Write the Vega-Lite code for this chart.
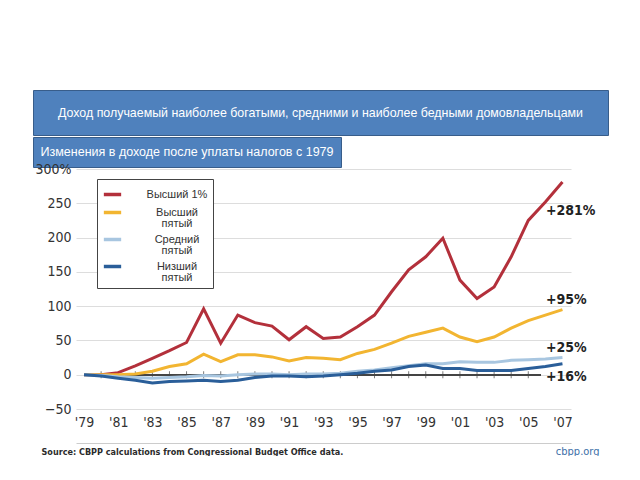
{
  "$schema": "https://vega.github.io/schema/vega-lite/v6.json",
  "padding": {"left": 32, "top": 89, "right": 0, "bottom": 0},
  "background": "white",
  "spacing": -6,
  "config": {"font": "Liberation Sans"},
  "datasets": {
    "series": [
      {"year": 1979, "group": "Высший 1%", "value": 0}, {"year": 1980, "group": "Высший 1%", "value": 0}, {"year": 1981, "group": "Высший 1%", "value": 3}, {"year": 1982, "group": "Высший 1%", "value": 13}, {"year": 1983, "group": "Высший 1%", "value": 24}, {"year": 1984, "group": "Высший 1%", "value": 35}, {"year": 1985, "group": "Высший 1%", "value": 47}, {"year": 1986, "group": "Высший 1%", "value": 96}, {"year": 1987, "group": "Высший 1%", "value": 46}, {"year": 1988, "group": "Высший 1%", "value": 87}, {"year": 1989, "group": "Высший 1%", "value": 76}, {"year": 1990, "group": "Высший 1%", "value": 71}, {"year": 1991, "group": "Высший 1%", "value": 51}, {"year": 1992, "group": "Высший 1%", "value": 70}, {"year": 1993, "group": "Высший 1%", "value": 53}, {"year": 1994, "group": "Высший 1%", "value": 55}, {"year": 1995, "group": "Высший 1%", "value": 70}, {"year": 1996, "group": "Высший 1%", "value": 87}, {"year": 1997, "group": "Высший 1%", "value": 121}, {"year": 1998, "group": "Высший 1%", "value": 153}, {"year": 1999, "group": "Высший 1%", "value": 172}, {"year": 2000, "group": "Высший 1%", "value": 199}, {"year": 2001, "group": "Высший 1%", "value": 138}, {"year": 2002, "group": "Высший 1%", "value": 111}, {"year": 2003, "group": "Высший 1%", "value": 128}, {"year": 2004, "group": "Высший 1%", "value": 172}, {"year": 2005, "group": "Высший 1%", "value": 225}, {"year": 2006, "group": "Высший 1%", "value": 252}, {"year": 2007, "group": "Высший 1%", "value": 281},
      {"year": 1979, "group": "Высший пятый", "value": 0}, {"year": 1980, "group": "Высший пятый", "value": 0}, {"year": 1981, "group": "Высший пятый", "value": 0}, {"year": 1982, "group": "Высший пятый", "value": 1}, {"year": 1983, "group": "Высший пятый", "value": 5}, {"year": 1984, "group": "Высший пятый", "value": 12}, {"year": 1985, "group": "Высший пятый", "value": 16}, {"year": 1986, "group": "Высший пятый", "value": 30}, {"year": 1987, "group": "Высший пятый", "value": 19}, {"year": 1988, "group": "Высший пятый", "value": 29}, {"year": 1989, "group": "Высший пятый", "value": 29}, {"year": 1990, "group": "Высший пятый", "value": 26}, {"year": 1991, "group": "Высший пятый", "value": 20}, {"year": 1992, "group": "Высший пятый", "value": 25}, {"year": 1993, "group": "Высший пятый", "value": 24}, {"year": 1994, "group": "Высший пятый", "value": 22}, {"year": 1995, "group": "Высший пятый", "value": 31}, {"year": 1996, "group": "Высший пятый", "value": 37}, {"year": 1997, "group": "Высший пятый", "value": 46}, {"year": 1998, "group": "Высший пятый", "value": 56}, {"year": 1999, "group": "Высший пятый", "value": 62}, {"year": 2000, "group": "Высший пятый", "value": 68}, {"year": 2001, "group": "Высший пятый", "value": 55}, {"year": 2002, "group": "Высший пятый", "value": 48}, {"year": 2003, "group": "Высший пятый", "value": 55}, {"year": 2004, "group": "Высший пятый", "value": 68}, {"year": 2005, "group": "Высший пятый", "value": 79}, {"year": 2006, "group": "Высший пятый", "value": 87}, {"year": 2007, "group": "Высший пятый", "value": 95},
      {"year": 1979, "group": "Средний пятый", "value": 0}, {"year": 1980, "group": "Средний пятый", "value": -1}, {"year": 1981, "group": "Средний пятый", "value": -3}, {"year": 1982, "group": "Средний пятый", "value": -4}, {"year": 1983, "group": "Средний пятый", "value": -5}, {"year": 1984, "group": "Средний пятый", "value": -4}, {"year": 1985, "group": "Средний пятый", "value": -3}, {"year": 1986, "group": "Средний пятый", "value": -1}, {"year": 1987, "group": "Средний пятый", "value": -2}, {"year": 1988, "group": "Средний пятый", "value": 0}, {"year": 1989, "group": "Средний пятый", "value": 1}, {"year": 1990, "group": "Средний пятый", "value": 1}, {"year": 1991, "group": "Средний пятый", "value": 0}, {"year": 1992, "group": "Средний пятый", "value": 1}, {"year": 1993, "group": "Средний пятый", "value": 1}, {"year": 1994, "group": "Средний пятый", "value": 2}, {"year": 1995, "group": "Средний пятый", "value": 5}, {"year": 1996, "group": "Средний пятый", "value": 7}, {"year": 1997, "group": "Средний пятый", "value": 10}, {"year": 1998, "group": "Средний пятый", "value": 13}, {"year": 1999, "group": "Средний пятый", "value": 16}, {"year": 2000, "group": "Средний пятый", "value": 16}, {"year": 2001, "group": "Средний пятый", "value": 19}, {"year": 2002, "group": "Средний пятый", "value": 18}, {"year": 2003, "group": "Средний пятый", "value": 18}, {"year": 2004, "group": "Средний пятый", "value": 21}, {"year": 2005, "group": "Средний пятый", "value": 22}, {"year": 2006, "group": "Средний пятый", "value": 23}, {"year": 2007, "group": "Средний пятый", "value": 25},
      {"year": 1979, "group": "Низший пятый", "value": 0}, {"year": 1980, "group": "Низший пятый", "value": -2}, {"year": 1981, "group": "Низший пятый", "value": -5}, {"year": 1982, "group": "Низший пятый", "value": -8}, {"year": 1983, "group": "Низший пятый", "value": -12}, {"year": 1984, "group": "Низший пятый", "value": -10}, {"year": 1985, "group": "Низший пятый", "value": -9}, {"year": 1986, "group": "Низший пятый", "value": -8}, {"year": 1987, "group": "Низший пятый", "value": -10}, {"year": 1988, "group": "Низший пятый", "value": -8}, {"year": 1989, "group": "Низший пятый", "value": -4}, {"year": 1990, "group": "Низший пятый", "value": -2}, {"year": 1991, "group": "Низший пятый", "value": -2}, {"year": 1992, "group": "Низший пятый", "value": -3}, {"year": 1993, "group": "Низший пятый", "value": -2}, {"year": 1994, "group": "Низший пятый", "value": 0}, {"year": 1995, "group": "Низший пятый", "value": 2}, {"year": 1996, "group": "Низший пятый", "value": 5}, {"year": 1997, "group": "Низший пятый", "value": 7}, {"year": 1998, "group": "Низший пятый", "value": 12}, {"year": 1999, "group": "Низший пятый", "value": 14}, {"year": 2000, "group": "Низший пятый", "value": 9}, {"year": 2001, "group": "Низший пятый", "value": 9}, {"year": 2002, "group": "Низший пятый", "value": 6}, {"year": 2003, "group": "Низший пятый", "value": 6}, {"year": 2004, "group": "Низший пятый", "value": 6}, {"year": 2005, "group": "Низший пятый", "value": 9}, {"year": 2006, "group": "Низший пятый", "value": 12}, {"year": 2007, "group": "Низший пятый", "value": 16}
    ],
    "ends": [
      {"label": "+281%", "year": 2007, "value": 281},
      {"label": "+95%", "year": 2007, "value": 95},
      {"label": "+25%", "year": 2007, "value": 25},
      {"label": "+16%", "year": 2007, "value": 16}
    ]
  },
  "vconcat": [
    {
      "spacing": 0,
      "vconcat": [
        {
          "width": 575,
          "height": 45,
          "view": {"fill": "#4f81bd", "stroke": "#385d8a", "strokeWidth": 1},
          "data": {"values": [{"t": "Доход получаемый наиболее богатыми, средними и наиболее бедными домовладельцами"}]},
          "mark": {"type": "text", "color": "#ffffff", "fontSize": 12.4, "font": "Liberation Sans", "baseline": "middle", "align": "center"},
          "encoding": {"text": {"field": "t"}}
        },
        {
          "width": 308,
          "height": 30,
          "view": {"fill": "#4f81bd", "stroke": "#385d8a", "strokeWidth": 1},
          "data": {"values": [{"t": "Изменения в доходе после уплаты налогов с 1979"}]},
          "mark": {"type": "text", "color": "#ffffff", "fontSize": 12.5, "font": "Liberation Sans", "baseline": "middle", "align": "center"},
          "encoding": {"text": {"field": "t"}}
        }
      ]
    },
    {
      "spacing": 0,
      "hconcat": [
        {
          "width": 1,
          "height": 1,
          "view": {"stroke": null},
          "data": {"values": [{"k": 1}]},
          "mark": {"type": "point", "opacity": 0, "size": 0, "strokeWidth": 0},
          "encoding": {}
        },
        {
          "width": 495,
          "height": 240,
          "view": {"stroke": null},
          "data": {"name": "series"},
          "resolve": {"axis": {"x": "independent"}},
          "layer": [
            {
              "mark": {"type": "rule", "color": "#444", "strokeWidth": 1.2},
              "encoding": {
                "x": {"datum": 1979, "type": "quantitative", "axis": null, "scale": {"domain": [1978.53, 2007.5], "nice": false, "zero": false}},
                "x2": {"datum": 2005.7},
                "y": {"datum": 0, "type": "quantitative"}
              }
            },
            {
              "transform": [{"filter": "datum.group == 'Низший пятый' && datum.year >= 1980 && datum.year <= 2005"}],
              "mark": {"type": "tick", "orient": "vertical", "color": "#444", "size": 7, "thickness": 1},
              "encoding": {
                "x": {"field": "year", "type": "quantitative", "axis": {"orient": "bottom", "offset": 34, "domain": true, "domainColor": "#cccccc", "domainWidth": 1, "labels": false, "ticks": false, "grid": false, "title": "Source: CBPP calculations from Congressional Budget Office data.", "titleX": -35, "titleY": 8, "titleAlign": "left", "titleAnchor": "start", "titleBaseline": "middle", "titleFont": "DejaVu Sans Condensed, Roboto Condensed, Roboto, sans-serif", "titleFontSize": 9, "titleFontWeight": "bold", "titleColor": "#2b2b2b"}},
                "y": {"datum": 0, "type": "quantitative"}
              }
            },
            {
              "mark": {"type": "line", "strokeWidth": 3, "strokeJoin": "miter"},
              "encoding": {
                "x": {"field": "year", "type": "quantitative", "axis": {"orient": "bottom", "values": [1979, 1981, 1983, 1985, 1987, 1989, 1991, 1993, 1995, 1997, 1999, 2001, 2003, 2005, 2007], "tickCount": 40, "labelExpr": "\"'\" + slice(toString(datum.value), 2)", "grid": false, "ticks": false, "domain": false, "labelFont": "DejaVu Sans Condensed, Roboto Condensed, Roboto, sans-serif", "labelFontSize": 14, "labelColor": "#333333", "labelPadding": 6, "title": "cbpp.org", "titleX": 523, "titleY": 42, "titleAlign": "right", "titleAnchor": "end", "titleBaseline": "middle", "titleFont": "DejaVu Sans Condensed, Roboto Condensed, Roboto, sans-serif", "titleFontSize": 11, "titleFontWeight": "normal", "titleColor": "#3d6fa8"}},
                "y": {"field": "value", "type": "quantitative", "scale": {"domain": [-50, 300], "nice": false, "zero": false}, "axis": {"values": [-50, 0, 50, 100, 150, 200, 250, 300], "tickCount": 40, "labelOverlap": false, "labelExpr": "datum.value == 300 ? '300%' : datum.label", "title": null, "domain": false, "ticks": false, "grid": true, "gridColor": "#dddddd", "gridWidth": 1, "labelFont": "DejaVu Sans Condensed, Roboto Condensed, Roboto, sans-serif", "labelFontSize": 14, "labelColor": "#333333", "labelPadding": 5, "minExtent": 40, "maxExtent": 40}},
                "color": {"field": "group", "type": "nominal", "scale": {"domain": ["Высший 1%", "Высший пятый", "Средний пятый", "Низший пятый"], "range": ["#b3303b", "#f2b531", "#a8c6e0", "#2a5e99"]}, "legend": {"orient": "none", "legendX": 64, "legendY": 89, "title": null, "symbolType": "stroke", "symbolStrokeWidth": 3.5, "symbolSize": 300, "labelFont": "Liberation Sans", "labelFontSize": 11, "labelColor": "#333333", "labelAlign": "center", "labelOffset": 54, "labelExpr": "datum.label == 'Высший 1%' ? datum.label : split(datum.label, ' ')", "strokeColor": "#444444", "fillColor": "#ffffff", "padding": 5, "rowPadding": 0, "labelLimit": 0, "encode": {"labels": {"update": {"lineHeight": {"value": 11}}}}}}
              }
            },
            {
              "data": {"name": "ends"},
              "transform": [{"filter": "datum.value == 281"}],
              "mark": {"type": "text", "align": "left", "baseline": "middle", "dx": -16.5, "dy": 29, "font": "DejaVu Sans Condensed, Roboto Condensed, Roboto, sans-serif", "fontSize": 14, "fontWeight": "bold", "color": "#222222"},
              "encoding": {"x": {"field": "year", "type": "quantitative", "axis": null}, "y": {"field": "value", "type": "quantitative"}, "text": {"field": "label"}}
            },
            {
              "data": {"name": "ends"},
              "transform": [{"filter": "datum.value == 95 || datum.value == 25"}],
              "mark": {"type": "text", "align": "left", "baseline": "middle", "dx": -16.5, "dy": -10, "font": "DejaVu Sans Condensed, Roboto Condensed, Roboto, sans-serif", "fontSize": 14, "fontWeight": "bold", "color": "#222222"},
              "encoding": {"x": {"field": "year", "type": "quantitative", "axis": null}, "y": {"field": "value", "type": "quantitative"}, "text": {"field": "label"}}
            },
            {
              "data": {"name": "ends"},
              "transform": [{"filter": "datum.value == 16"}],
              "mark": {"type": "text", "align": "left", "baseline": "middle", "dx": -16.5, "dy": 13, "font": "DejaVu Sans Condensed, Roboto Condensed, Roboto, sans-serif", "fontSize": 14, "fontWeight": "bold", "color": "#222222"},
              "encoding": {"x": {"field": "year", "type": "quantitative", "axis": null}, "y": {"field": "value", "type": "quantitative"}, "text": {"field": "label"}}
            }
          ]
        }
      ]
    }
  ]
}
